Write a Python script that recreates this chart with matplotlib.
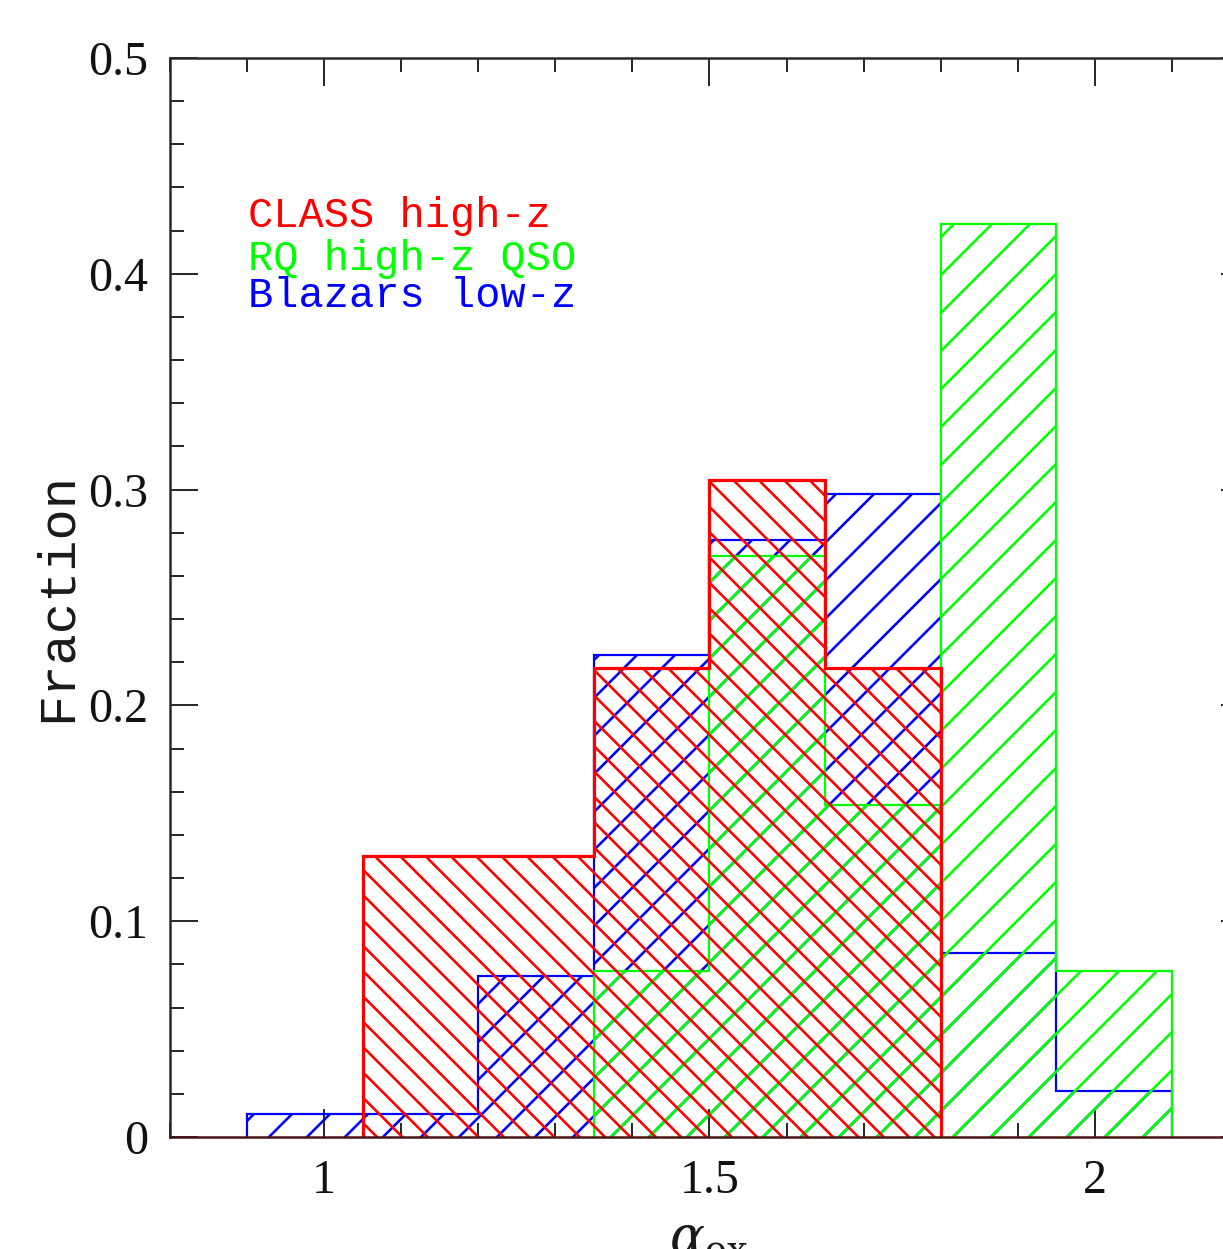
import matplotlib
matplotlib.use("Agg")
import matplotlib.pyplot as plt
from matplotlib.ticker import MultipleLocator, FixedLocator, FuncFormatter
import numpy as np

# ---- data ----
edges_class = [1.05, 1.20, 1.35, 1.50, 1.65, 1.80]
frac_class = [0.1304, 0.1304, 0.2174, 0.3043, 0.2174]

edges_rq = [1.35, 1.50, 1.65, 1.80, 1.95, 2.10]
frac_rq = [0.0769, 0.2692, 0.1538, 0.4231, 0.0769]

edges_blz = [0.90, 1.05, 1.20, 1.35, 1.50, 1.65, 1.80, 1.95, 2.10]
frac_blz = [0.0106, 0.0106, 0.0745, 0.2234, 0.2766, 0.2979, 0.0851, 0.0213]

labels = ["CLASS high-z", "RQ high-z QSO", "Blazars low-z"]
colors = ["#ff0000", "#00ff00", "#0000ff"]
yticks = [0, 0.1, 0.2, 0.3, 0.4, 0.5]
xticks = [1, 1.5, 2]

# ---- figure ----
DPI = 456
W, H = 1223, 1249
def pt(px):
    return px * 72.0 / DPI

plt.rcParams['hatch.linewidth'] = pt(2.6)
plt.rcParams['mathtext.fontset'] = 'dejavuserif'

fig = plt.figure(figsize=(W / DPI, H / DPI), dpi=DPI)
L, R, B, T = 170, 1249, 1137, 58
ax = fig.add_axes([L / W, 1 - B / H, (R - L) / W, (B - T) / H])

ax.stairs(frac_blz, edges_blz, baseline=0, fill=False, edgecolor=colors[2],
          linewidth=pt(2.2), hatch='////', zorder=2)
ax.stairs(frac_rq, edges_rq, baseline=0, fill=False, edgecolor=colors[1],
          linewidth=pt(2.2), hatch='////', zorder=3)
ax.stairs(frac_class, edges_class, baseline=0, fill=False, edgecolor=colors[0],
          linewidth=pt(3.2), hatch='\\' * 6, zorder=4)

ax.set_xlim(0.8, 2.2)
ax.set_ylim(0, 0.5)

ax.xaxis.set_major_locator(FixedLocator(xticks))
ax.xaxis.set_minor_locator(MultipleLocator(0.1))
ax.yaxis.set_major_locator(FixedLocator(yticks))
ax.yaxis.set_minor_locator(MultipleLocator(0.02))
fmt = FuncFormatter(lambda v, p: f"{v:g}")
ax.xaxis.set_major_formatter(fmt)
ax.yaxis.set_major_formatter(fmt)

axcol = '#2a2a2a'
ax.tick_params(which='both', direction='in', top=True, right=True,
               color=axcol, width=pt(2.0))
ax.tick_params(which='major', length=pt(28), pad=pt(22))
ax.tick_params(which='minor', length=pt(14))
for lab in ax.get_xticklabels() + ax.get_yticklabels():
    lab.set_fontfamily('Liberation Serif')
    lab.set_fontsize(pt(48))
    lab.set_color('#111111')
for s in ax.spines.values():
    s.set_linewidth(pt(2.5))
    s.set_color(axcol)
ax.spines['bottom'].set_color('#4a1414')
ax.spines['bottom'].set_zorder(5)

# legend text
ys = [0.8434, 0.8035, 0.7692]
for lab, c, y in zip(labels, colors, ys):
    ax.text(0.0723, y, lab, transform=ax.transAxes, color=c,
            fontfamily='Liberation Mono', fontsize=pt(42),
            ha='left', va='baseline')

# axis labels
fig.text(57 / W, 1 - 597 / H, "Fraction", rotation=90, ha='center', va='center',
         fontfamily='Liberation Mono', fontsize=pt(52), color='#1a1a1a')
fig.text(709 / W, 1 - 1214 / H, r"$\alpha_{\rm ox}$", ha='center', va='top',
         fontsize=pt(52), color='#1a1a1a')

fig.savefig("out.png", dpi=DPI)
